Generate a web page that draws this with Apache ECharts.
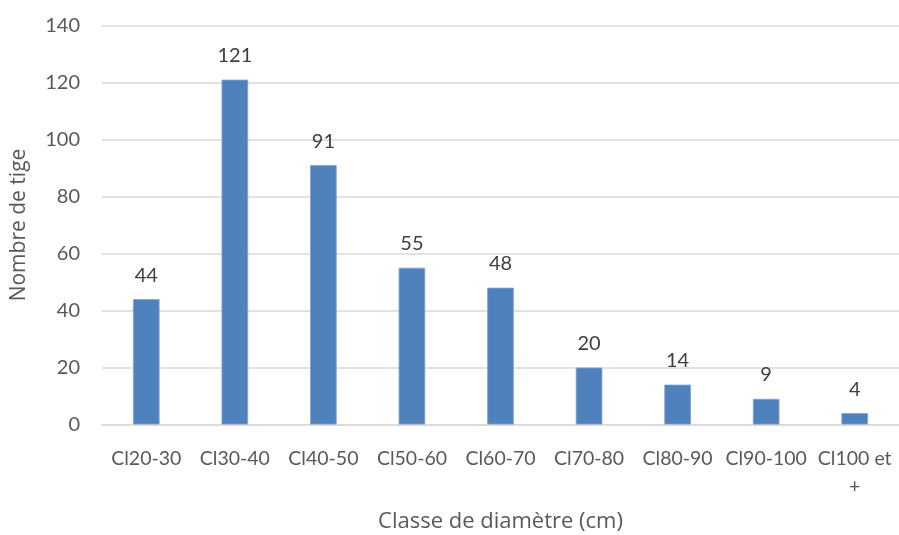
<!DOCTYPE html>
<html>
<head>
<meta charset="utf-8">
<script src="https://cdn.jsdelivr.net/npm/echarts@6/dist/echarts.min.js"></script>
<style>
html,body{margin:0;padding:0;background:#fff;}
#chart{width:899px;height:535px;}
</style>
</head>
<body>
<div id="chart"></div>
<script>
// Diameter classes and stem counts
const categories = ['Cl20-30', 'Cl30-40', 'Cl40-50', 'Cl50-60', 'Cl60-70', 'Cl70-80', 'Cl80-90', 'Cl90-100', 'Cl100 et\n+'];
const stemCounts = [44, 121, 91, 55, 48, 20, 14, 9, 4];
const yTicks = { min: 0, max: 140, interval: 20 };

const font = 'Lato, "Open Sans", sans-serif';
const titleFont = '"Open Sans", sans-serif';
const chart = echarts.init(document.getElementById('chart'));
chart.setOption({
  animation: false,
  grid: { left: 102, right: 0, top: 25.5, bottom: 110.5, outerBoundsMode: 'none', containLabel: false },
  xAxis: {
    type: 'category',
    data: categories,
    axisTick: { show: false },
    axisLine: { lineStyle: { color: '#d9d9d9', width: 1.5 } },
    axisLabel: { color: '#595959', fontSize: 19.5, fontFamily: font, margin: 20, lineHeight: 28, interval: 0, hideOverlap: false },
    name: 'Classe de diamètre (cm)',
    nameLocation: 'middle',
    nameGap: 86,
    nameTextStyle: { color: '#595959', fontSize: 22, fontFamily: titleFont }
  },
  yAxis: {
    type: 'value',
    min: yTicks.min, max: yTicks.max, interval: yTicks.interval,
    axisLine: { show: false },
    axisTick: { show: false },
    splitLine: { lineStyle: { color: '#d9d9d9', width: 1.5 } },
    axisLabel: { color: '#595959', fontSize: 20, fontFamily: font, margin: 22 },
    name: 'Nombre de tige',
    nameLocation: 'middle',
    nameGap: 72,
    nameTextStyle: { color: '#595959', fontSize: 21, fontFamily: titleFont }
  },
  series: [{
    type: 'bar',
    data: stemCounts,
    barWidth: '30%',
    itemStyle: { color: '#4f81bd', borderColor: '#7fa3d0', borderWidth: 0.8 },
    label: { show: true, position: 'top', distance: 14, color: '#404040', fontSize: 20, fontFamily: font }
  }]
});
</script>
</body>
</html>
